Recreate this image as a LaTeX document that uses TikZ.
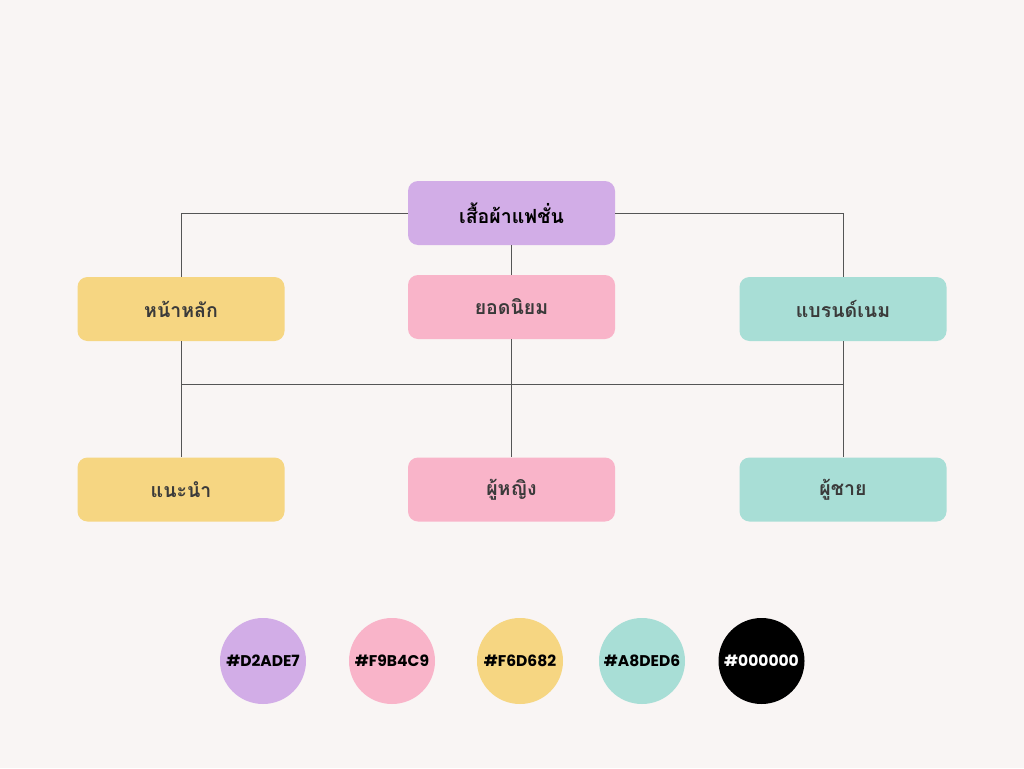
\documentclass[tikz,border=0pt]{standalone}
\usepackage{fontspec}
\setmainfont{Poppins}
\newfontfamily\thaifont[Script=Thai]{Loma}
\definecolor{bgpaper}{HTML}{F9F5F4}
\definecolor{lilac}{HTML}{D2ADE7}
\definecolor{rose}{HTML}{F9B4C9}
\definecolor{sand}{HTML}{F6D682}
\definecolor{mint}{HTML}{A8DED6}
\definecolor{linegrey}{HTML}{555555}
\definecolor{textgrey}{HTML}{3A3A3A}
\begin{document}
\begin{tikzpicture}[x=1pt,y=-1pt,
  box/.style={rounded corners=10pt,minimum width=207pt,minimum height=64pt,inner sep=0pt,
    font=\thaifont\bfseries\fontsize{19.5}{22}\selectfont,text=textgrey},
  swatch/.style={circle,minimum size=86pt,inner sep=0pt,font=\bfseries\fontsize{15.5}{18}\selectfont},
  link/.style={linegrey,line width=0.9pt}]
% Background
\fill[bgpaper] (0,0) rectangle (1024,768);
\useasboundingbox (0,0) rectangle (1024,768);
% Boxes
\node[box,fill=lilac,text=black] (fashion) at (511.5,213) {เสื้อผ้าแฟชั่น};
\node[box,fill=sand] (home) at (181,309) {หน้าหลัก};
\node[box,fill=rose] (popular) at (511.5,307) {ยอดนิยม};
\node[box,fill=mint] (brand) at (843,309) {แบรนด์เนม};
\node[box,fill=sand] (guide) at (181,489.5) {แนะนำ};
\node[box,fill=rose] (women) at (511.5,489.5) {ผู้หญิง};
\node[box,fill=mint] (men) at (843,489.5) {ผู้ชาย};
% Links
\draw[link] (fashion.west) -| (home.north);
\draw[link] (fashion.east) -| (brand.north);
\draw[link] (fashion.south) -- (popular.north);
\coordinate (busL) at (181,384);
\coordinate (busR) at (843,384);
\draw[link] (busL) -- (busR);
\draw[link] (home.south) -- (guide.north);
\draw[link] (popular.south) -- (women.north);
\draw[link] (brand.south) -- (men.north);
% Swatches
\node[swatch,fill=lilac] (swA) at (263,661) {\#D2ADE7};
\node[swatch,fill=rose] (swB) at (392,661) {\#F9B4C9};
\node[swatch,fill=sand] (swC) at (520,661) {\#F6D682};
\node[swatch,fill=mint] (swD) at (642,661) {\#A8DED6};
\node[swatch,fill=black,text=white] (swE) at (761.5,661) {\#000000};
\end{tikzpicture}
\end{document}
